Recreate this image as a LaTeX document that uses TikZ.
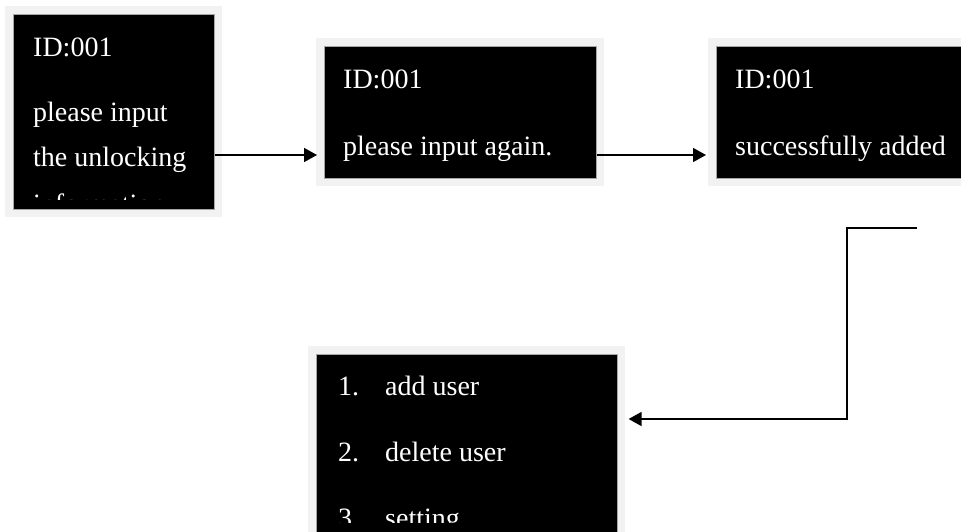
\documentclass[tikz,border=0pt]{standalone}
\usepackage{fontspec}
\setmainfont{Liberation Serif}
\usetikzlibrary{arrows.meta}

\definecolor{framegray}{RGB}{242,242,242}

\tikzset{
  screen/.style={anchor=north west,fill=black,draw=gray!70,line width=0.6pt,
    preaction={draw=framegray,line width=16pt}},
  txt/.style={anchor=base west,text=white,inner sep=0,
    font=\fontsize{28}{34}\selectfont},
  flow/.style={line width=1.5pt,arrows={-Triangle[length=13pt,width=14pt]}}
}

\begin{document}
\begin{tikzpicture}[x=1pt,y=-1pt]
\path[use as bounding box] (0,0) rectangle (961,532);
\clip (0,0) rectangle (961,532);
% screens
\node[screen,minimum width=201,minimum height=195] (s1) at (13,14) {};
\node[screen,minimum width=272,minimum height=132] (s2) at (324,46) {};
\node[screen,minimum width=272,minimum height=132] (s3) at (716,46) {};
\node[screen,minimum width=301,minimum height=195] (s4) at (316,354) {};
% texts
\begin{scope}
\clip (s1.north west) rectangle (s1.east |- 0,199);
\node[txt] (t11) at (33,57) {ID:001};
\node[txt] (t12) at (33,122) {please input};
\node[txt] (t13) at (33,167) {the unlocking};
\node[txt] (t14) at (33,213.5) {information};
\end{scope}
\node[txt] (t21) at (343,89) {ID:001};
\node[txt] (t22) at (343,155) {please input again.};
\node[txt] (t31) at (735,89) {ID:001};
\node[txt] (t32) at (735,155) {successfully added};
\begin{scope}
\clip (s4.north west) rectangle (s4.east |- 0,522);
\foreach \num/\item [count=\i] in {1./add user, 2./delete user, 3/setting}{
  \node[txt] (n\i) at (338,{329+66*\i}) {\num};
  \node[txt] (m\i) at (385,{329+66*\i}) {\item};
}
\end{scope}
% arrows
\coordinate (c3) at (917,228);
\draw[flow,shorten >=7pt] (s1.east |- 0,155) -- (s2.west |- 0,155);
\draw[flow,shorten >=10pt] (s2.east |- 0,155) -- (s3.west |- 0,155);
\draw[flow,shorten >=11pt] (c3) -| (847,419) -- (s4.east |- 0,419);
\end{tikzpicture}
\end{document}
